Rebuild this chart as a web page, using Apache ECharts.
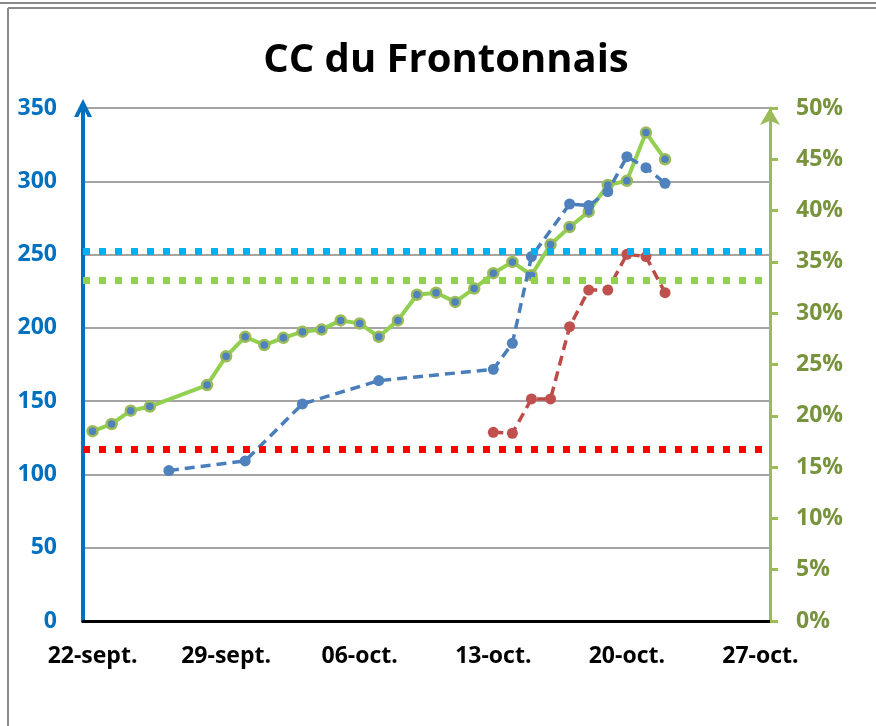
<!DOCTYPE html>
<html>
<head>
<meta charset="utf-8" />
<title>CC du Frontonnais</title>
<script src="https://cdn.jsdelivr.net/npm/echarts@6/dist/echarts.min.js"></script>
<style>
  html, body { margin: 0; padding: 0; background: #fff; }
  #main { width: 876px; height: 726px; }
</style>
</head>
<body>
<div id="main"></div>
<script type="text/javascript">
    // one category per day, 22 sept -> 27 oct
    var days = [
        '22-sept.', '23-sept.', '24-sept.', '25-sept.', '26-sept.', '27-sept.', '28-sept.',
        '29-sept.', '30-sept.', '01-oct.', '02-oct.', '03-oct.', '04-oct.', '05-oct.',
        '06-oct.', '07-oct.', '08-oct.', '09-oct.', '10-oct.', '11-oct.', '12-oct.',
        '13-oct.', '14-oct.', '15-oct.', '16-oct.', '17-oct.', '18-oct.', '19-oct.',
        '20-oct.', '21-oct.', '22-oct.', '23-oct.', '24-oct.', '25-oct.', '26-oct.',
        '27-oct.'
    ];

    // green line, right axis (%)
    var tauxVert = [
        18.5, 19.2, 20.5, 20.9, null, null, 23.0, 25.8, 27.7, 26.9,
        27.6, 28.2, 28.4, 29.3, 29.0, 27.7, 29.3, 31.8, 32.0, 31.1,
        32.4, 33.9, 35.0, 33.7, 36.7, 38.4, 39.9, 42.5, 42.9, 47.6,
        45.0
    ];

    // blue dashed line, left axis
    var serieBleue = [
        null, null, null, null, 102.6, null, null, null, 109.2, null,
        null, 148.1, null, null, null, 164.0, null, null, null, null,
        null, 171.7, 189.5, 248.6, null, 284.5, 283.4, 292.9, 316.8, 309.3,
        298.6
    ];

    // red dashed line, left axis
    var serieRouge = [
        null, null, null, null, null, null, null, null, null, null,
        null, null, null, null, null, null, null, null, null, null,
        null, 128.7, 128.1, 151.5, 151.5, 200.8, 225.8, 225.8, 250.2, 248.6,
        224.0
    ];

    // dotted threshold lines
    var seuilBleu = 252.5;   // left axis
    var seuilVert = 33.2;    // right axis (%)
    var seuilRouge = 117.5;  // left axis

    var myChart = echarts.init(document.getElementById('main'));

    var font = '"Open Sans", "Noto Sans", sans-serif';

    function dotted(color, value) {
        return {
            silent: true,
            symbol: ['none', 'none'],
            label: { show: false },
            lineStyle: { color: color, width: 7, type: [7, 9], opacity: 1 },
            data: [{ yAxis: value }]
        };
    }

    var option = {
        backgroundColor: '#ffffff',
        animation: false,
        textStyle: { fontFamily: font },
        title: {
            text: 'CC du Frontonnais',
            left: 441,
            textAlign: 'center',
            top: 36,
            textStyle: { fontFamily: font, fontSize: 40, fontWeight: 'bold', color: '#000' }
        },
        grid: { left: 83, right: 106, top: 108, bottom: 105 },
        xAxis: {
            type: 'category',
            boundaryGap: true,
            data: days,
            axisLine: { lineStyle: { color: '#000', width: 3 } },
            axisTick: { show: false },
            axisLabel: {
                interval: 6,
                margin: 24,
                color: '#000',
                fontSize: 23,
                fontWeight: 'bold',
                fontFamily: font
            },
            splitLine: { show: false }
        },
        yAxis: [
            {
                type: 'value',
                min: 0,
                max: 350,
                interval: 50,
                axisLine: {
                    show: true,
                    symbol: ['none', 'path://M0,10 L5,0 L10,10 L7.6,10 L5,4.8 L2.4,10 Z'],
                    symbolSize: [20, 18],
                    symbolOffset: [0, 0],
                    lineStyle: { color: '#0070c0', width: 4 }
                },
                axisTick: { show: false },
                axisLabel: {
                    margin: 26,
                    color: '#0070c0',
                    fontSize: 23,
                    fontWeight: 'bold',
                    fontFamily: font
                },
                splitLine: { show: true, lineStyle: { color: '#868686', width: 1.5 } }
            },
            {
                type: 'value',
                min: 0,
                max: 50,
                interval: 5,
                position: 'right',
                axisLine: {
                    show: true,
                    symbol: ['none', 'arrow'],
                    symbolSize: [15, 17],
                    symbolOffset: [0, 0],
                    lineStyle: { color: '#9bbb59', width: 3 }
                },
                axisTick: { show: true, length: 8, lineStyle: { color: '#9bbb59', width: 3 } },
                axisLabel: {
                    margin: 26,
                    color: '#77933c',
                    fontSize: 23,
                    fontWeight: 'bold',
                    fontFamily: font,
                    formatter: '{value}%'
                },
                splitLine: { show: false }
            }
        ],
        series: [
            {
                name: 'seuil rouge',
                type: 'line',
                data: [],
                markLine: dotted('#ff0000', seuilRouge),
                z: 1
            },
            {
                name: 'seuil bleu',
                type: 'line',
                data: [],
                markLine: dotted('#00b0f0', seuilBleu),
                z: 1
            },
            {
                name: 'seuil vert',
                type: 'line',
                yAxisIndex: 1,
                data: [],
                markLine: dotted('#92d050', seuilVert),
                z: 1
            },
            {
                name: 'vert',
                type: 'line',
                yAxisIndex: 1,
                data: tauxVert,
                connectNulls: true,
                symbol: 'circle',
                symbolSize: 10,
                lineStyle: { color: '#92d050', width: 4 },
                itemStyle: { color: '#4f81bd', borderColor: '#9bbb59', borderWidth: 2.5 },
                z: 3
            },
            {
                name: 'bleu',
                type: 'line',
                data: serieBleue,
                connectNulls: true,
                symbol: 'circle',
                symbolSize: 11,
                lineStyle: { color: '#4a7ebb', width: 3.5, type: [10, 6] },
                itemStyle: { color: '#4f81bd', borderWidth: 0 },
                z: 4
            },
            {
                name: 'rouge',
                type: 'line',
                data: serieRouge,
                connectNulls: true,
                symbol: 'circle',
                symbolSize: 11,
                lineStyle: { color: '#be4b48', width: 3.5, type: [10, 6] },
                itemStyle: { color: '#c0504d', borderWidth: 0 },
                z: 4
            }
        ],
        graphic: [
            { type: 'line', shape: { x1: 0, y1: 3, x2: 876, y2: 3 }, style: { stroke: '#8a8a8a', lineWidth: 2 } },
            { type: 'line', shape: { x1: 8, y1: 8, x2: 876, y2: 8 }, style: { stroke: '#8a8a8a', lineWidth: 2 } },
            { type: 'line', shape: { x1: 8, y1: 8, x2: 8, y2: 726 }, style: { stroke: '#8a8a8a', lineWidth: 2 } }
        ]
    };
    myChart.setOption(option);
</script>
</body>
</html>
